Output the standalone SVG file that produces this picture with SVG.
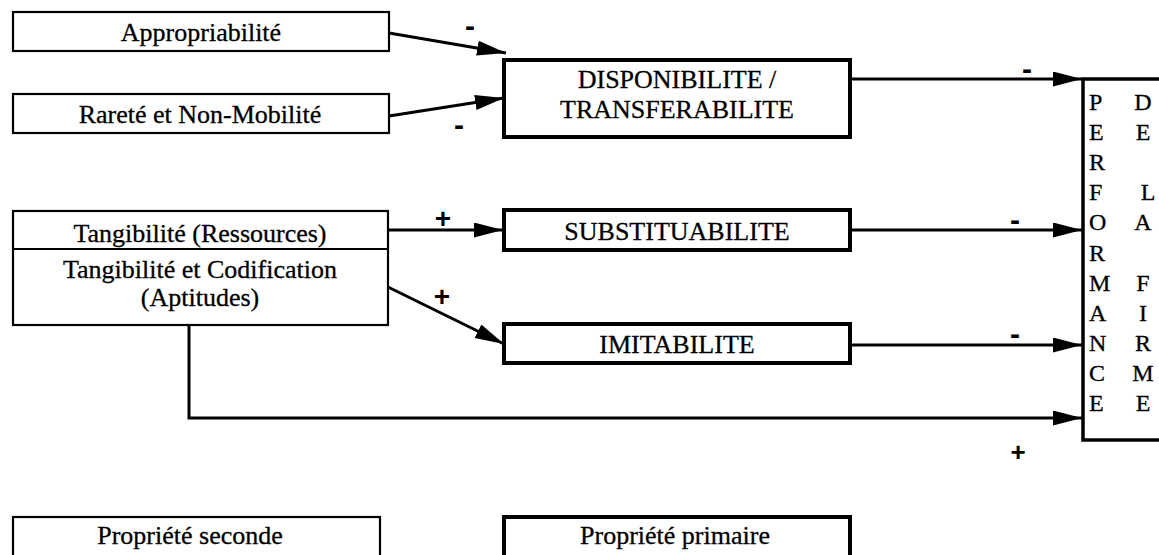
<svg xmlns="http://www.w3.org/2000/svg" width="1159" height="555" viewBox="0 0 1159 555">
  <style>
    .sec { fill: #fff; stroke: #000; stroke-width: 2.2; }
    .pri { fill: #fff; stroke: #000; stroke-width: 4; }
    .lbl { font-family: "Liberation Serif", "Times New Roman", serif; font-size: 26px; fill: #000; stroke: #000; stroke-width: 0.3; text-anchor: middle; }
    .perf { font-family: "Liberation Serif", "Times New Roman", serif; font-size: 24px; fill: #000; stroke: #000; stroke-width: 0.3; }
    .sign { font-family: "Liberation Sans", Arial, sans-serif; font-weight: bold; fill: #000; text-anchor: middle; }
    .conn { fill: none; stroke: #000; stroke-width: 3; marker-end: url(#arr); }
  </style>
  <defs>
    <marker id="arr" markerUnits="userSpaceOnUse" markerWidth="31" markerHeight="16" refX="29" refY="7.5" orient="auto">
      <path d="M0,0 L29,7.5 L0,15 z" fill="#000"/>
    </marker>
  </defs>
  <rect width="1159" height="555" fill="#fff"/>

  <g id="appropriabilite">
    <rect class="sec" x="13" y="12" width="376" height="39"/>
    <text class="lbl" x="201" y="41">Appropriabilité</text>
  </g>
  <g id="rarete">
    <rect class="sec" x="13" y="94" width="376" height="39"/>
    <text class="lbl" x="200" y="123">Rareté et Non-Mobilité</text>
  </g>
  <g id="tangibilite">
    <rect class="sec" x="13" y="211" width="375" height="114"/>
    <line x1="13" y1="249" x2="388" y2="249" stroke="#000" stroke-width="2.2"/>
    <text class="lbl" x="200" y="242">Tangibilité (Ressources)</text>
    <text class="lbl" x="200" y="278">Tangibilité et Codification</text>
    <text class="lbl" x="200" y="306">(Aptitudes)</text>
  </g>
  <g id="disponibilite">
    <rect class="pri" x="504" y="60" width="346" height="77"/>
    <text class="lbl" x="677" y="88">DISPONIBILITE /</text>
    <text class="lbl" x="677" y="118">TRANSFERABILITE</text>
  </g>
  <g id="substituabilite">
    <rect class="pri" x="504" y="210" width="346" height="40"/>
    <text class="lbl" x="677" y="240">SUBSTITUABILITE</text>
  </g>
  <g id="imitabilite">
    <rect class="pri" x="504" y="324" width="346" height="39"/>
    <text class="lbl" x="677" y="353">IMITABILITE</text>
  </g>
  <g id="performance">
    <rect x="1083" y="79" width="90" height="361" fill="#fff" stroke="#000" stroke-width="3.5"/>
    <text class="perf" x="1089" y="110">P</text>
    <text class="perf" x="1089" y="140">E</text>
    <text class="perf" x="1089" y="170">R</text>
    <text class="perf" x="1089" y="200">F</text>
    <text class="perf" x="1089" y="230">O</text>
    <text class="perf" x="1089" y="261">R</text>
    <text class="perf" x="1089" y="291">M</text>
    <text class="perf" x="1089" y="321">A</text>
    <text class="perf" x="1089" y="351">N</text>
    <text class="perf" x="1089" y="381">C</text>
    <text class="perf" x="1089" y="411">E</text>
    <text class="perf" x="1143" y="110" text-anchor="middle">D</text>
    <text class="perf" x="1143" y="140" text-anchor="middle">E</text>
    <text class="perf" x="1148" y="200" text-anchor="middle">L</text>
    <text class="perf" x="1143" y="230" text-anchor="middle">A</text>
    <text class="perf" x="1143" y="291" text-anchor="middle">F</text>
    <text class="perf" x="1143" y="321" text-anchor="middle">I</text>
    <text class="perf" x="1143" y="351" text-anchor="middle">R</text>
    <text class="perf" x="1143" y="381" text-anchor="middle">M</text>
    <text class="perf" x="1143" y="411" text-anchor="middle">E</text>
  </g>
  <g id="legend-seconde">
    <rect class="sec" x="13" y="517" width="367" height="45"/>
    <text class="lbl" x="190" y="544">Propriété seconde</text>
  </g>
  <g id="legend-primaire">
    <rect class="pri" x="504" y="517" width="346" height="45"/>
    <text class="lbl" x="675" y="544">Propriété primaire</text>
  </g>

  <g id="connectors">
    <line class="conn" x1="389" y1="33" x2="506" y2="53"/>
    <line class="conn" x1="389" y1="116" x2="504" y2="98"/>
    <line class="conn" x1="388" y1="230" x2="503" y2="230"/>
    <line class="conn" x1="388" y1="287" x2="504" y2="344"/>
    <line class="conn" x1="852" y1="79" x2="1082" y2="79"/>
    <line class="conn" x1="852" y1="230" x2="1082" y2="230"/>
    <line class="conn" x1="852" y1="345" x2="1082" y2="345"/>
    <polyline class="conn" points="189,325 189,418 1082,418"/>
  </g>

  <g id="signs">
    <text class="sign" x="470" y="36" font-size="30">-</text>
    <text class="sign" x="459" y="135" font-size="30">-</text>
    <text class="sign" x="1027" y="79" font-size="30">-</text>
    <text class="sign" x="1015" y="230" font-size="30">-</text>
    <text class="sign" x="1015" y="344" font-size="30">-</text>
    <text class="sign" x="443" y="228" font-size="28">+</text>
    <text class="sign" x="442" y="306" font-size="28">+</text>
    <text class="sign" x="1018" y="461" font-size="26">+</text>
  </g>
</svg>
